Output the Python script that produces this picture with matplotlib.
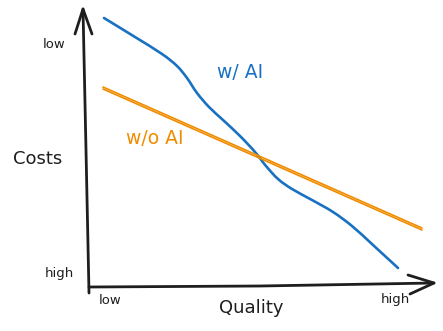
import matplotlib
matplotlib.use('Agg')
import matplotlib.pyplot as plt
from matplotlib.path import Path
from matplotlib.patches import PathPatch

# Sketch of cost vs. quality, with and without AI (figure pixel units)
with_ai_x = [104, 135, 162, 177, 187, 197, 209, 223, 240, 255, 266, 278,
             292, 312, 333, 352, 373, 398]
with_ai_y = [18, 37, 54, 66, 78, 93, 107, 120, 136, 152, 166, 179,
             189, 200, 212, 226, 245, 268]

without_ai_x = [103, 422]
without_ai_y = [87, 228]

axis_labels = ['Costs', 'Quality']
tick_labels = ['low', 'high']

colors = {
    'axis': '#1e1e1e',
    'with': '#1971c2',
    'without': '#f08c00',
}


def smooth_path(xs, ys):
    # Catmull-Rom through the points, written as cubic Bezier segments
    pts = list(zip(xs, ys))
    verts = [pts[0]]
    codes = [Path.MOVETO]
    for i in range(len(pts) - 1):
        p0 = pts[i - 1] if i > 0 else pts[i]
        p1, p2 = pts[i], pts[i + 1]
        p3 = pts[i + 2] if i + 2 < len(pts) else pts[i + 1]
        c1 = (p1[0] + (p2[0] - p0[0]) / 6, p1[1] + (p2[1] - p0[1]) / 6)
        c2 = (p2[0] - (p3[0] - p1[0]) / 6, p2[1] - (p3[1] - p1[1]) / 6)
        verts += [c1, c2, p2]
        codes += [Path.CURVE4] * 3
    return Path(verts, codes)


fig = plt.figure(figsize=(4.43, 3.31), dpi=100)
ax = fig.add_axes([0, 0, 1, 1])
ax.set_xlim(0, 443)
ax.set_ylim(331, 0)
ax.axis('off')

# Hand-drawn axes with open arrowheads
ax.plot([89, 86, 83], [293, 150, 9], color=colors['axis'], lw=2.0,
        solid_capstyle='round')
ax.plot([75, 83, 92], [34, 9, 34], color=colors['axis'], lw=2.0,
        solid_capstyle='round', solid_joinstyle='round')
ax.plot([89, 260, 434], [287, 286, 283], color=colors['axis'], lw=2.0,
        solid_capstyle='round')
ax.plot([408, 434, 410], [275, 283, 294], color=colors['axis'], lw=2.0,
        solid_capstyle='round', solid_joinstyle='round')

# Curves
ax.add_patch(PathPatch(smooth_path(with_ai_x, with_ai_y), facecolor='none',
                       edgecolor=colors['with'], lw=1.9, capstyle='round',
                       joinstyle='round'))
ax.plot(without_ai_x, without_ai_y, color=colors['without'], lw=1.2,
        solid_capstyle='round')
ax.plot(without_ai_x, [y + 2 for y in without_ai_y], color=colors['without'],
        lw=1.2, solid_capstyle='round')

# Labels
font = dict(family='DejaVu Sans', va='center', ha='center')
ax.text(54, 45, tick_labels[0], fontsize=9.5, color=colors['axis'], **font)
ax.text(59, 273, tick_labels[1], fontsize=9.5, color=colors['axis'], **font)
ax.text(38, 159, axis_labels[0], fontsize=13, color=colors['axis'], **font)
ax.text(110, 301, tick_labels[0], fontsize=9.5, color=colors['axis'], **font)
ax.text(251, 308, axis_labels[1], fontsize=13, color=colors['axis'], **font)
ax.text(395, 300, tick_labels[1], fontsize=9.5, color=colors['axis'], **font)
ax.text(240, 73, 'w/ AI', fontsize=13.5, color=colors['with'], **font)
ax.text(155, 139, 'w/o AI', fontsize=13.5, color=colors['without'], **font)

fig.savefig('out.png', dpi=100, facecolor='white')
